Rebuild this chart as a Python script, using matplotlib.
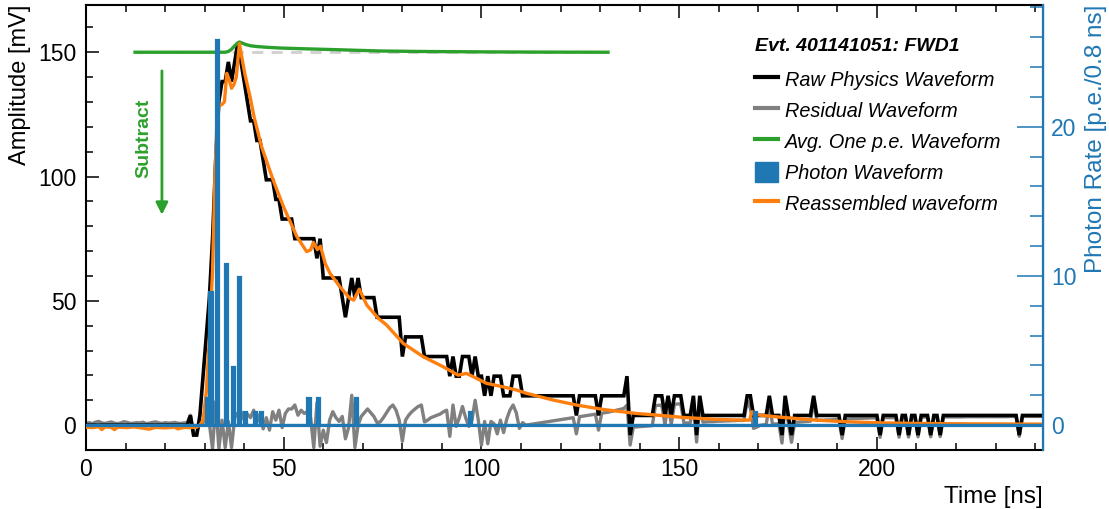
import numpy as np
import matplotlib
matplotlib.use("Agg")
import matplotlib.pyplot as plt
from matplotlib.ticker import MultipleLocator
from matplotlib.lines import Line2D
from matplotlib.patches import Patch

plt.rcParams['font.family'] = ['Liberation Sans', 'DejaVu Sans']

SAMPLE_NS = 0.8

# Digitised physics waveform (mV), one value per 0.8 ns sample
raw_mv = [
    0, 0, 0, 0, 0, 0, 0, 0, 0, 0,
    0, 0, 0, 0, 0, 0, 0, 0, 0, 0,
    0, 0, 0, 0, 0, 0, 0, 0, 0, 0,
    0, 0, 0, 3.9, -4.0, -4.0, 3.9, 19.7, 35.5, 51.3,
    75.0, 106.6, 130.3, 138.2, 138.2, 146.1, 138.2, 146.1, 154.0, 146.1,
    138.2, 130.3, 122.4, 122.4, 114.5, 114.5, 106.6, 98.7, 98.7, 98.7,
    90.8, 90.8, 82.9, 82.9, 82.9, 82.9, 75.0, 75.0, 75.0, 75.0,
    75.0, 75.0, 75.0, 67.1, 75.0, 59.2, 59.2, 59.2, 59.2, 59.2,
    59.2, 51.3, 43.4, 51.3, 59.2, 51.3, 59.2, 51.3, 51.3, 51.3,
    51.3, 51.3, 43.4, 43.4, 43.4, 43.4, 43.4, 43.4, 43.4, 43.4,
    27.6, 35.5, 35.5, 35.5, 35.5, 35.5, 35.5, 27.6, 27.6, 27.6,
    27.6, 27.6, 27.6, 27.6, 27.6, 19.7, 27.6, 19.7, 19.7, 27.6,
    27.6, 27.6, 19.7, 27.6, 19.7, 19.7, 11.8, 19.7, 11.8, 19.7,
    19.7, 19.7, 11.8, 11.8, 11.8, 19.7, 19.7, 19.7, 11.8, 11.8,
    11.8, 11.8, 11.8, 11.8, 11.8, 11.8, 11.8, 11.8, 11.8, 11.8,
    11.8, 11.8, 11.8, 11.8, 11.8, 3.9, 11.8, 11.8, 11.8, 11.8,
    11.8, 11.8, 3.9, 11.8, 11.8, 11.8, 11.8, 11.8, 11.8, 11.8,
    11.8, 19.7, -4.0, 3.9, 3.9, 3.9, 3.9, 3.9, 3.9, 3.9,
    11.8, 11.8, 11.8, 3.9, 11.8, 3.9, 11.8, 11.8, 11.8, 3.9,
    3.9, 3.9, 11.8, -4.0, 11.8, 3.9, 3.9, 3.9, 3.9, 3.9,
    3.9, 3.9, 3.9, 3.9, 3.9, 3.9, 3.9, 3.9, 3.9, 11.8,
    11.8, 3.9, 3.9, 3.9, 3.9, 3.9, 11.8, 3.9, 3.9, 3.9,
    -4.0, 11.8, 3.9, -4.0, 3.9, 3.9, 3.9, 3.9, 3.9, 3.9,
    11.8, 3.9, 3.9, 3.9, 3.9, 3.9, 3.9, 3.9, 3.9, -4.0,
    3.9, 3.9, 3.9, 3.9, 3.9, 3.9, 3.9, 3.9, 3.9, 3.9,
    3.9, -4.0, 3.9, 3.9, 3.9, 3.9, 3.9, -4.0, 3.9, 3.9,
    -4.0, 3.9, 3.9, -4.0, 3.9, 3.9, 3.9, -4.0, 3.9, 3.9,
    -4.0, 3.9, 3.9, 3.9, 3.9, 3.9, 3.9, 3.9, 3.9, 3.9,
    3.9, 3.9, 3.9, 3.9, 3.9, 3.9, 3.9, 3.9, 3.9, 3.9,
    3.9, 3.9, 3.9, 3.9, 3.9, -4.0, 3.9, 3.9, 3.9, 3.9,
    3.9, 3.9, 3.9,
]

# Residual after subtracting the reassembled waveform (mV), per sample
residual_mv = [
    0.8, 1.0, 0.6, 1.2, 1.5, 0.9, 0.7, 1.0, 1.3, 0.8,
    0.6, 0.9, 1.4, 1.1, 0.7, 0.8, 1.0, 0.9, 1.2, 0.6,
    0.8, 1.1, 1.3, 0.9, 0.7, 1.0, 0.8, 0.9, 1.1, 0.8,
    0.7, 0.9, 1.0, 4.0, -3.5, -3.5, 2.0, 1.0, 2.5, 0.5,
    -9.5, 9.5, -9.5, 2.0, -9.0, 1.5, -9.0, 3.0, 5.0, 5.4,
    2.0, 4.5, 3.0, 6.0, 1.0, 4.5, -1.5, 3.0, -2.0, 5.4,
    2.0, 6.0, -1.0, 4.7, 6.5, 6.5, 8.1, 4.0, 6.0, 4.7,
    5.5, 3.0, -9.0, 9.0, -8.5, -2.0, -7.0, 2.0, 5.4, 3.0,
    1.5, 3.5, -5.5, -1.0, 12.0, -9.0, 0.0, 3.5, 5.0, 6.5,
    5.0, 3.5, 1.0, 1.3, 3.0, 5.0, 7.0, 8.1, 6.0, 2.0,
    -6.5, 2.0, 4.0, 5.4, 6.5, 7.5, 8.1, 1.3, 2.0, 3.0,
    3.5, 4.0, 4.5, 5.4, 6.0, -4.5, 8.1, -0.5, 3.0, 7.5,
    3.0, -0.5, 2.0, 10.0, 2.0, -8.0, 1.5, -7.5, 1.5, 0.5,
    -3.5, 2.0, -3.0, 2.5, 6.0, 8.1, 5.0, -1.3, 1.0, 0.0,
    0.2, 0.4, 0.6, 0.8, 1.0, 1.2, 1.4, 1.6, 1.8, 2.0,
    2.2, 2.4, 2.6, 2.8, 3.0, -3.5, 3.4, 3.6, 3.8, 4.0,
    4.2, 4.4, -2.0, 4.8, 5.0, 5.2, 5.5, 5.8, 6.1, 6.4,
    6.7, 8.0, -8.0, -0.8, -0.7, -0.6, -0.5, -0.4, -0.3, -0.2,
    7.9, 8.0, 8.0, 0.2, 8.2, 0.4, 8.4, 8.5, 8.6, 0.8,
    0.9, 0.9, 8.9, -6.8, 9.0, 1.2, 1.3, 1.4, 1.4, 1.5,
    1.6, 1.6, 1.7, 1.7, 1.8, 1.8, 1.9, 1.9, 1.9, 9.8,
    6.8, -1.3, -0.8, -0.1, 0.1, 0.2, 8.2, 0.4, 0.5, 0.6,
    -7.2, 8.7, 0.9, -6.9, 1.1, 1.2, 1.3, 1.4, 1.5, 1.6,
    9.7, 1.9, 2.0, 2.0, 2.1, 2.1, 2.2, 2.3, 2.4, -5.4,
    2.5, 2.5, 2.6, 2.6, 2.7, 2.7, 2.8, 2.8, 2.9, 2.9,
    2.9, -4.9, 3.0, 3.0, 3.0, 3.0, 3.1, -4.85, 3.1, 3.1,
    -4.8, 3.1, 3.2, -4.7, 3.2, 3.2, 3.2, -4.7, 3.2, 3.3,
    -4.6, 3.3, 3.3, 3.3, 3.3, 3.3, 3.3, 3.3, 3.4, 3.4,
    3.4, 3.4, 3.4, 3.4, 3.4, 3.4, 3.4, 3.4, 3.4, 3.4,
    3.4, 3.4, 3.5, 3.5, 3.5, -4.5, 3.5, 3.5, 3.5, 3.5,
    3.5, 3.5, 3.5,
]

# Reassembled waveform (time in ns, amplitude in mV)
reco_t = [0.0, 1.6, 3.2, 4.0, 4.8, 6.4, 7.2, 8.0, 10.4, 12.0, 14.4, 16.0,
          17.6, 20.0, 22.4, 23.2, 24.8, 26.4, 28.0, 28.8, 29.6, 30.4, 31.2,
          32.0, 32.6, 33.2, 33.6, 34.4, 35.0, 35.6, 36.2, 36.8, 37.4, 38.0,
          38.8, 39.4, 40.2, 41.5, 42.5, 44.4, 47.3, 49.9, 53.3, 55.8, 56.8,
          57.5, 58.5, 59.3, 60.5, 61.7, 64.2, 66.7, 67.7, 69.1, 71.0, 73.9,
          76.0, 80.2, 85.3, 90.3, 94.1, 96.2, 97.9, 101.3, 105.5, 108.9,
          111.4, 118.1, 124.0, 130.8, 139.2, 147.6, 151.0, 159.4, 167.0,
          167.8, 168.4, 170.4, 176.3, 184.7, 193.1, 201.5, 210.0, 225.0,
          241.6]
reco_mv = [-0.8, -1.0, -0.6, -1.8, -0.7, -0.9, -1.8, -0.8, -1.0, -0.7, -1.2,
           -1.6, -0.9, -1.1, -0.8, -1.5, -0.9, -1.0, -0.8, 0.0, 2.0, 13.0,
           35.0, 62.0, 100.0, 126.0, 128.5, 129.0, 130.0, 141.5, 139.0, 135.5,
           137.0, 140.0, 153.5, 148.0, 141.0, 132.0, 124.0, 112.0, 98.7, 88.0,
           75.9, 69.8, 70.5, 73.5, 70.6, 72.0, 65.0, 61.1, 55.7, 51.0, 50.3,
           54.7, 48.3, 43.0, 40.3, 32.9, 27.5, 23.5, 20.1, 20.8, 19.5, 16.8,
           15.4, 14.1, 12.8, 10.1, 8.1, 6.3, 4.7, 3.6, 3.1, 2.3, 2.0, 2.0,
           5.4, 4.0, 3.1, 2.0, 1.3, 0.9, 0.7, 0.5, 0.4]

# Average single photo-electron waveform, drawn on a 150 mV pedestal
spe_t = [12.4, 35.2, 36.0, 36.8, 37.6, 38.4, 38.8, 39.6, 40.4, 41.6, 43.2,
         45.6, 49.0, 55.0, 61.7, 68.0, 74.3, 85.0, 100.0, 115.0, 132.0]
spe_mv = [150.0, 150.0, 150.3, 151.2, 152.6, 153.8, 154.1, 153.6, 153.1,
          152.6, 152.3, 152.0, 151.7, 151.4, 151.1, 150.8, 150.5, 150.3,
          150.15, 150.05, 150.0]

# Photon waveform: non-empty 0.8 ns bins and their photo-electron counts
photon_bin = [38, 39, 41, 44, 46, 48, 50, 53, 55, 70, 73, 85, 121, 211]
photon_pe = [1.8, 8.9, 25.8, 10.8, 3.9, 9.9, 0.9, 0.9, 0.9, 1.8, 1.8, 1.8,
             0.9, 0.9]

BLACK = '#000000'
GREY = '#808080'
GREEN = '#2ca02c'
BLUE = '#1f77b4'
ORANGE = '#ff7f0e'

t = np.arange(len(raw_mv)) * SAMPLE_NS
photon = np.zeros(len(raw_mv))
photon[photon_bin] = photon_pe
bin_centres = t + SAMPLE_NS / 2

W, H = 1109, 509
fig = plt.figure(figsize=(W / 100, H / 100), dpi=100)
ax = fig.add_axes([86 / W, 59 / H, 957 / W, 445 / H])
ax2 = ax.twinx()

ymin, ymax = -10, 169
mv_per_pe = 6.0
ax.set_xlim(0, 242)
ax.set_ylim(ymin, ymax)
ax2.set_ylim(ymin / mv_per_pe, ymax / mv_per_pe)

# Waveforms on the amplitude axis
ax.hlines(spe_mv[0], spe_t[0], spe_t[-1], colors='#cfcfcf', lw=2.0,
          linestyles=(0, (4, 3)), zorder=1)
ax.plot(t, residual_mv, color=GREY, lw=2.4, zorder=2)
ax.plot(t, raw_mv, color=BLACK, lw=2.6, solid_joinstyle='miter', zorder=3)
ax.plot(spe_t, spe_mv, color=GREEN, lw=2.4, zorder=4)
ax.plot(reco_t, reco_mv, color=ORANGE, lw=2.4, zorder=5)

# Photon waveform on the rate axis
ax2.bar(bin_centres, photon, width=SAMPLE_NS, color=BLUE, edgecolor=BLUE,
        linewidth=1.6)
ax2.axhline(0, color=BLUE, lw=2.3)

# "Subtract" annotation
ax.annotate('', xy=(19.2, 84.6), xytext=(19.2, 142.5),
            arrowprops=dict(arrowstyle='-|>', color=GREEN, lw=2.0,
                            mutation_scale=18, shrinkA=0, shrinkB=0))
ax.text(14.6, 115.5, 'Subtract', rotation=90, color=GREEN, weight='bold',
        fontsize=14, ha='center', va='center')

# Axes styling
ax.xaxis.set_major_locator(MultipleLocator(50))
ax.xaxis.set_minor_locator(MultipleLocator(10))
ax.yaxis.set_major_locator(MultipleLocator(50))
ax.yaxis.set_minor_locator(MultipleLocator(10))
ax.tick_params(which='both', direction='in', top=True, right=False,
               labelsize=16.5, width=1.1)
ax.tick_params(which='major', length=9.4, pad=7)
ax.tick_params(which='minor', length=5)
ax.tick_params(axis='x', which='major', pad=6)

ax2.yaxis.set_major_locator(MultipleLocator(10))
ax2.yaxis.set_minor_locator(MultipleLocator(2))
ax2.tick_params(axis='y', which='both', direction='in', colors=BLUE,
                labelsize=16.5, width=1.1, left=False, pad=6)
ax2.tick_params(axis='y', which='major', length=18.7)
ax2.tick_params(axis='y', which='minor', length=9.4)
for side in ('left', 'top', 'bottom'):
    ax2.spines[side].set_visible(False)
ax2.spines['right'].set_color(BLUE)
ax2.spines['right'].set_linewidth(1.6)
for side in ('left', 'top', 'bottom'):
    ax.spines[side].set_linewidth(1.5)

ax.set_xlabel('Time [ns]', loc='right', fontsize=17.5, labelpad=3)
ax.set_ylabel('Amplitude [mV]', loc='top', fontsize=17, labelpad=5)
ax2.set_ylabel('Photon Rate [p.e./0.8 ns]', loc='top', fontsize=17.5,
               color=BLUE, labelpad=6)

handles = [
    Line2D([], [], color=BLACK, lw=3.0),
    Line2D([], [], color=GREY, lw=3.0),
    Line2D([], [], color=GREEN, lw=3.0),
    Patch(facecolor=BLUE, edgecolor=BLUE),
    Line2D([], [], color=ORANGE, lw=3.0),
]
labels = ['Raw Physics Waveform', 'Residual Waveform',
          'Avg. One p.e. Waveform', 'Photon Waveform',
          'Reassembled waveform']
leg = ax2.legend(handles, labels, loc='upper left',
                 bbox_to_anchor=(755 / W, 1 - 38 / H),
                 bbox_transform=fig.transFigure, frameon=False,
                 borderpad=0, borderaxespad=0, handlelength=1.15,
                 handleheight=1.2, handletextpad=0.35, labelspacing=0.51,
                 prop={'style': 'italic', 'size': 14.3},
                 title='Evt. 401141051: FWD1',
                 title_fontproperties={'weight': 'bold', 'style': 'italic',
                                       'size': 14},
                 alignment='left')
# extra gap between the legend title and its entries
leg._legend_box.sep = 10

fig.savefig('out.png', dpi=100)
